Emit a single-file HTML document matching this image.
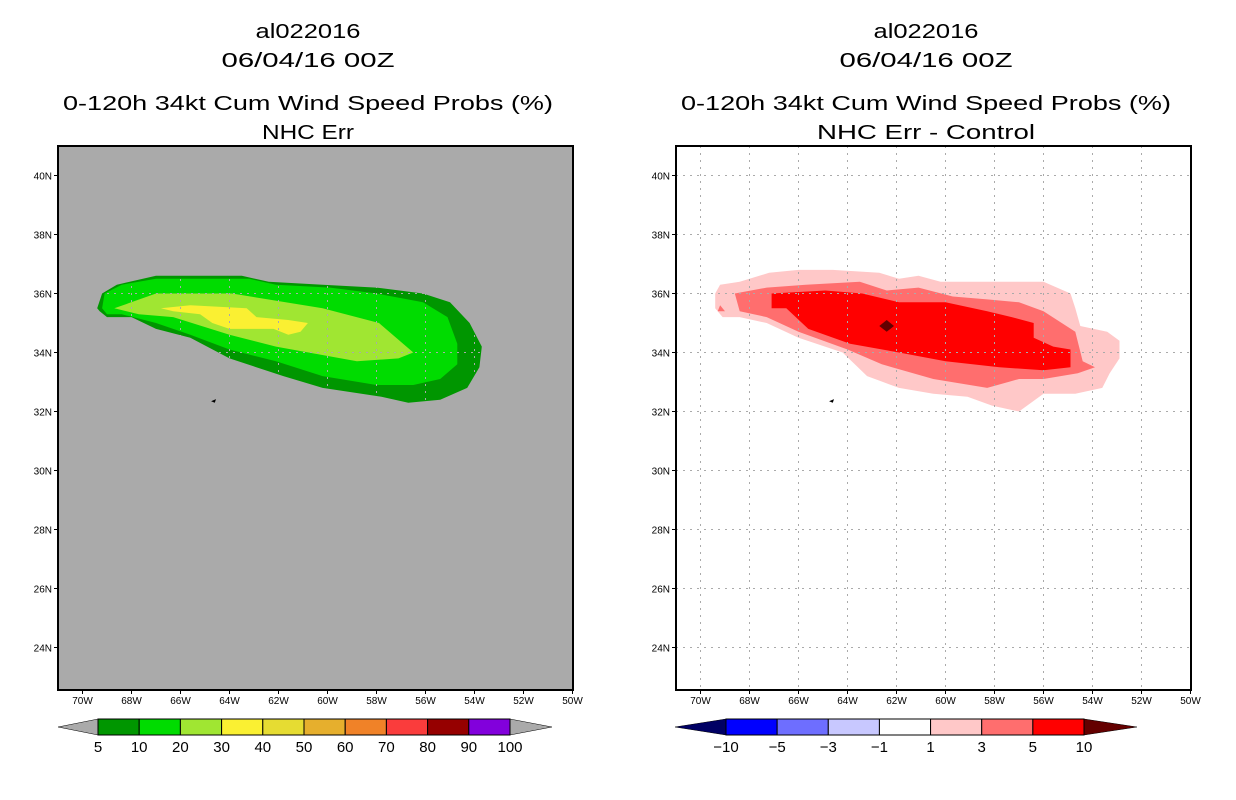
<!DOCTYPE html>
<html><head><meta charset="utf-8"><style>
html,body{margin:0;padding:0;background:#fff;}
svg{display:block;font-family:"Liberation Sans",sans-serif;}
</style></head><body>
<svg id="chart" width="1236" height="800" xmlns="http://www.w3.org/2000/svg"></svg>
<script>
// ---- data ----
const lonTicks = [70,68,66,64,62,60,58,56,54,52,50];
const latTicks = [40,38,36,34,32,30,28,26,24];
const leftLevels = ['5','10','20','30','40','50','60','70','80','90','100'];
const leftColors = ['#009600','#00dc00','#a0e632','#faf032','#e6dc32','#e6af2d','#f08228','#fa3c3c','#960000','#8200dc'];
const rightLevels = ['-10','-5','-3','-1','1','3','5','10'];
const rightColors = ['#0000ff','#6e6eff','#c8c8ff','#ffffff','#ffc8c8','#ff6e6e','#ff0000'];
// left contours: [lonW, latN]
const L5 = [[69.4,35.5],[69.2,36.0],[68.6,36.3],[67.0,36.6],[64.9,36.6],[63.5,36.6],[62.4,36.4],[60.2,36.3],[58.0,36.2],[56.1,36.0],[55.0,35.7],[54.2,35.0],[53.7,34.2],[53.8,33.5],[54.3,32.8],[55.4,32.4],[56.7,32.3],[57.8,32.5],[60.2,32.8],[61.8,33.2],[64.0,33.8],[65.6,34.5],[67.0,34.8],[68.0,35.2],[69.0,35.2],[69.3,35.4]];
const L10 = [[69.1,36.0],[68.4,36.3],[67.0,36.5],[64.9,36.5],[63.2,36.5],[62.1,36.3],[59.9,36.2],[58.0,36.0],[56.1,35.7],[55.1,35.2],[54.7,34.3],[54.7,33.6],[55.4,33.1],[56.5,32.9],[58.0,32.9],[60.2,33.2],[62.1,33.7],[64.0,34.1],[65.6,34.6],[67.0,35.0],[68.4,35.3],[69.0,35.3],[69.2,35.5]];
const L20 = [[68.7,35.5],[67.0,36.0],[63.9,36.0],[60.2,35.5],[57.9,35.0],[56.5,34.0],[57.1,33.8],[58.8,33.7],[62.1,34.2],[64.0,34.6],[66.3,35.2],[67.7,35.3]];
const L30 = [[66.8,35.5],[65.6,35.6],[63.3,35.5],[62.9,35.2],[61.6,35.1],[60.8,35.0],[61.1,34.7],[61.6,34.6],[62.2,34.8],[64.0,34.8],[64.7,35.0],[65.2,35.3],[66.3,35.4]];
// right contours
const R1 = [[69.4,36.0],[69.2,36.3],[68.4,36.4],[67.2,36.7],[66.0,36.8],[64.6,36.8],[62.7,36.7],[61.9,36.5],[61.1,36.6],[60.2,36.4],[58.5,36.4],[57.8,36.4],[56.0,36.4],[54.9,36.0],[54.7,35.5],[54.5,34.9],[53.4,34.7],[52.9,34.4],[52.9,33.8],[53.3,33.3],[53.6,32.8],[54.7,32.6],[56.0,32.6],[57.0,32.0],[58.1,32.2],[59.1,32.5],[60.5,32.6],[61.9,32.8],[63.2,33.2],[64.2,34.0],[66.0,34.5],[67.3,35.0],[68.4,35.2],[69.1,35.2],[69.4,35.5]];
const R3 = [[68.6,36.0],[67.3,36.2],[65.7,36.3],[63.5,36.4],[62.4,36.1],[61.1,36.2],[59.7,35.9],[58.3,35.8],[57.0,35.7],[56.0,35.4],[54.7,34.7],[54.4,33.7],[53.9,33.5],[54.6,33.3],[56.0,33.1],[57.0,33.1],[58.3,32.8],[60.5,33.1],[62.6,33.6],[64.0,34.1],[66.0,34.7],[67.3,35.2],[68.4,35.4]];
const R5 = [[67.1,36.0],[64.9,36.1],[63.4,36.0],[61.9,35.7],[60.0,35.7],[58.3,35.4],[57.3,35.2],[56.4,35.0],[56.4,34.5],[55.6,34.2],[54.9,34.1],[54.9,33.5],[56.0,33.4],[57.8,33.5],[60.0,33.7],[61.9,34.0],[63.9,34.3],[65.6,34.8],[66.5,35.5],[66.8,35.5],[67.1,35.5]];
const R10 = [[62.7,34.9],[62.4,35.1],[62.1,34.9],[62.4,34.7]];
const R3b = [[69.2,35.6],[69.0,35.4],[69.3,35.4]];
const island = [[64.75,32.35],[64.55,32.42],[64.6,32.3]];

// ---- helpers ----
const NS='http://www.w3.org/2000/svg';
const svg=document.getElementById('chart');
function mk(tag,attrs,parent){const e=document.createElementNS(NS,tag);for(const k in attrs)e.setAttribute(k,attrs[k]);(parent||svg).appendChild(e);return e;}
const top0=146,bot0=690;
function xs(ox){return w=>ox+(71-w)*24.5;}
function ys(n){return 146+(41-n)*29.5;}
function poly(pts,X,fill,g,name){const p=mk('polygon',{points:pts.map(q=>X(q[0]).toFixed(1)+','+ys(q[1]).toFixed(1)).join(' '),fill:fill},g);

return p;}
function txt(s,x,y,size,anchor,g,name,len){const t=mk('text',{x:x,y:y,'font-size':size,'text-anchor':anchor||'middle',fill:'#000'},g);if(len){t.setAttribute('textLength',len);t.setAttribute('lengthAdjust','spacingAndGlyphs');}t.textContent=s;

return t;}

function panel(ox,bg,polys,titleLines,cbar){
  const g=mk('g',{});
  
  
  const X=xs(ox);const cx=ox+250;
  txt(titleLines[0],cx,38,20,'middle',g,'case-title',105);
  txt(titleLines[1],cx,67,20,'middle',g,'date-title',173);
  txt(titleLines[2],cx,110,20,'middle',g,'product-title',490);
  txt(titleLines[3],cx,139,20,'middle',g,'subtitle',titleLines[4]);
  const bgR=mk('rect',{x:ox,y:top0,width:515,height:544,fill:bg},g);
  
  
  polys.forEach(p=>poly(p[0],X,p[1],g,p[2]));
  poly(island,X,'#000',g,'bermuda');
  lonTicks.slice(0,10).forEach(w=>{const l=mk('line',{x1:X(w),x2:X(w),y1:top0,y2:bot0,stroke:'#aaaaaa','stroke-dasharray':'2,5'},g);
    });
  latTicks.forEach(n=>{const l=mk('line',{x1:ox,x2:ox+515,y1:ys(n),y2:ys(n),stroke:'#aaaaaa','stroke-dasharray':'2,5'},g);
    });
  const fr=mk('rect',{x:ox,y:top0,width:515,height:544,fill:'none',stroke:'#000','stroke-width':2},g);
  
  lonTicks.forEach(w=>{mk('line',{x1:X(w),x2:X(w),y1:bot0,y2:bot0+4,stroke:'#000'},g);txt(w+'W',X(w),704,10,'middle',g,'lon-tick-label');});
  latTicks.forEach(n=>{mk('line',{x1:ox-4,x2:ox,y1:ys(n),y2:ys(n),stroke:'#000'},g);txt(n+'N',ox-6,ys(n)+4,10,'end',g,'lat-tick-label');});
  const cb=mk('g',{},g);
  
  const {x0,x1,tl,tr,cols,labs,lc,rc}=cbar;const n=cols.length;const w=(x1-x0)/n;
  mk('polygon',{points:`${tl},727 ${x0},719 ${x0},735`,fill:lc,stroke:'#000','stroke-width':0.5},cb);
  mk('polygon',{points:`${tr},727 ${x1},719 ${x1},735`,fill:rc,stroke:'#000','stroke-width':0.5},cb);
  cols.forEach((c,i)=>{const r=mk('rect',{x:x0+i*w,y:719,width:w,height:16,fill:c,stroke:'#000','stroke-width':1},cb);
    });
  labs.forEach((s,i)=>txt(s.replace('-','\u2212'),x0+i*w,752,15,'middle',cb,'colorbar-label'));
}
panel(58,'#aaaaaa',[[L5,leftColors[0],'contour-5'],[L10,leftColors[1],'contour-10'],[L20,leftColors[2],'contour-20'],[L30,leftColors[3],'contour-30']],
  ['al022016','06/04/16 00Z','0-120h 34kt Cum Wind Speed Probs (%)','NHC Err',92],
  {x0:98,x1:510,tl:58,tr:552,cols:leftColors,labs:leftLevels,lc:'#aaaaaa',rc:'#aaaaaa'});
panel(676,'#ffffff',[[R1,rightColors[4],'diff-1'],[R3,rightColors[5],'diff-3'],[R3b,rightColors[5],'diff-3-west'],[R5,rightColors[6],'diff-5'],[R10,'#640000','diff-10']],
  ['al022016','06/04/16 00Z','0-120h 34kt Cum Wind Speed Probs (%)','NHC Err - Control',218],
  {x0:726,x1:1084,tl:675,tr:1137,cols:rightColors,labs:rightLevels,lc:'#000064',rc:'#640000'});
</script>
</body></html>
